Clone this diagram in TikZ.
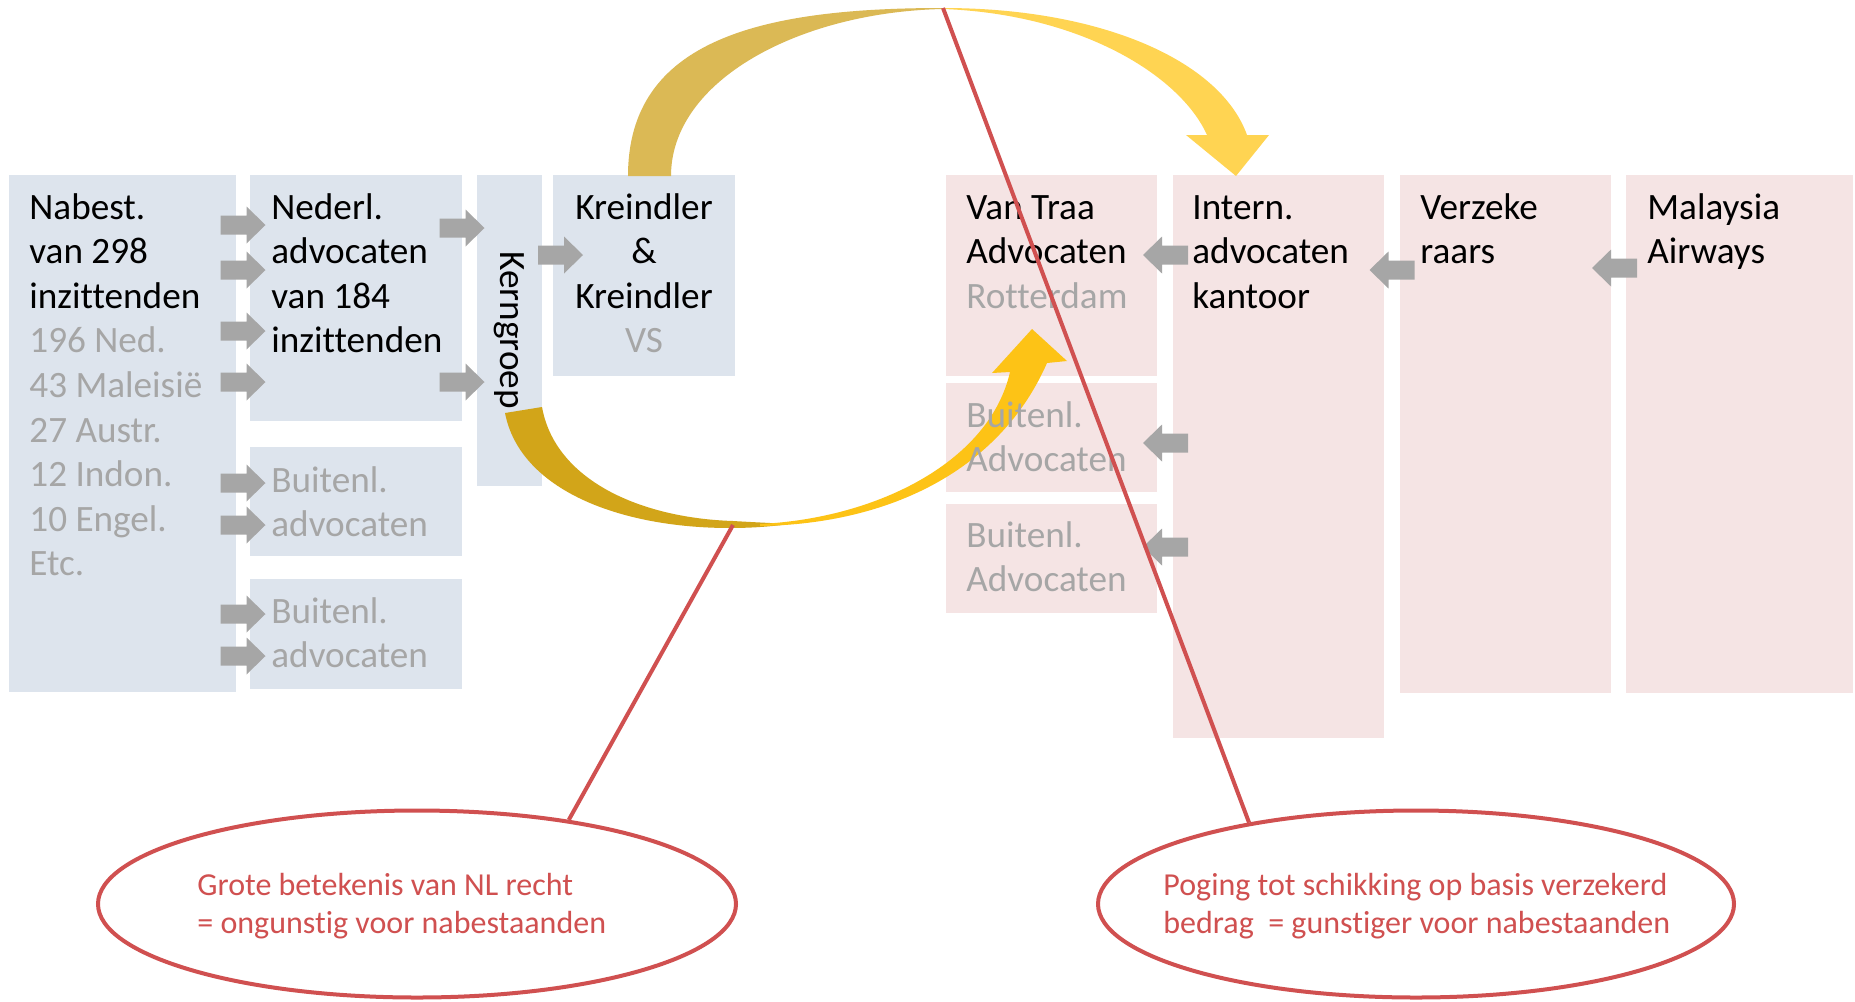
\documentclass[tikz,border=0pt]{standalone}
\usepackage{fontspec}
\setmainfont{Carlito}[Ligatures=NoCommon]
\usetikzlibrary{shapes.geometric}
\definecolor{bluebg}{HTML}{DDE4ED}
\definecolor{pinkbg}{HTML}{F5E4E4}
\definecolor{agray}{HTML}{A6A6A6}
\definecolor{tgray}{HTML}{A6A6A6}
\definecolor{redl}{HTML}{D05050}
\definecolor{goldA}{HTML}{DBB955}
\definecolor{goldB}{HTML}{FFD452}
\definecolor{goldC}{HTML}{D2A519}
\definecolor{goldD}{HTML}{FDC316}
\newcommand\boxtxt[1]{\parbox[t]{120pt}{\raggedright #1}}
\newcommand\ctrtxt[1]{\parbox[t]{91pt}{\centering #1}}
\newcommand\elltxt[1]{\parbox[t]{300pt}{\raggedright #1}}
\tikzset{
  bluebox/.style={fill=bluebg, draw=none, anchor=north west, inner sep=0, outer sep=0},
  pinkbox/.style={fill=pinkbg, draw=none, anchor=north west, inner sep=0, outer sep=0},
  lbl/.style={anchor=base west, inner sep=0, font=\fontsize{18.6}{22.3}\selectfont},
  clbl/.style={anchor=base, inner sep=0, font=\fontsize{18.6}{22.3}\selectfont},
  elbl/.style={anchor=base west, inner sep=0, text=redl, font=\fontsize{16}{19}\selectfont},
  bubble/.style={ellipse, draw=redl, line width=2pt, inner sep=0},
  redline/.style={draw=redl, line width=2pt},
  rarrow/.pic={\fill[agray] (-22.5,-9.5) -- (3.5,-9.5) -- (3.5,-18.5) -- (22.5,0) -- (3.5,18.5) -- (3.5,9.5) -- (-22.5,9.5) -- cycle;},
  larrow/.pic={\fill[agray] (22.5,-9.5) -- (-3.5,-9.5) -- (-3.5,-18.5) -- (-22.5,0) -- (-3.5,18.5) -- (-3.5,9.5) -- (22.5,9.5) -- cycle;}
}
\begin{document}
\begin{tikzpicture}[x=0.5pt,y=-0.5pt]
\useasboundingbox[fill=white] (0,0) rectangle (1855,1001);
% blue boxes
\node[bluebox, minimum width=113.5pt, minimum height=258.5pt] (A) at (9,175) {};
\node[bluebox, minimum width=106pt, minimum height=123pt] (B) at (250,175) {};
\node[bluebox, minimum width=106pt, minimum height=54.5pt] (C) at (250,447) {};
\node[bluebox, minimum width=106pt, minimum height=55pt] (D) at (250,579) {};
\node[bluebox, minimum width=32.5pt, minimum height=155.5pt] (K) at (477,175) {};
\node[bluebox, minimum width=91pt, minimum height=100.5pt] (KR) at (553,175) {};
% pink boxes
\node[pinkbox, minimum width=105.5pt, minimum height=100.5pt] (VT) at (946,175) {};
\node[pinkbox, minimum width=105.5pt, minimum height=54.5pt] (PB1) at (946,383) {};
\node[pinkbox, minimum width=105.5pt, minimum height=54.5pt] (PB2) at (946,504) {};
\node[pinkbox, minimum width=105.5pt, minimum height=281.5pt] (IN) at (1173,175) {};
\node[pinkbox, minimum width=105.5pt, minimum height=259pt] (VZ) at (1400,175) {};
\node[pinkbox, minimum width=113.5pt, minimum height=259pt] (MY) at (1626,175) {};
% gray block arrows
\foreach \yy in {225,270,331,382,483,525,614,656} \pic at (243,\yy) {rarrow};
\pic at (462,228) {rarrow};
\pic at (462,382) {rarrow};
\pic at (560.5,255) {rarrow};
\pic at (1165.5,255) {larrow};
\pic at (1165.5,443) {larrow};
\pic at (1165.5,547) {larrow};
\pic at (1392,270) {larrow};
\pic at (1614.5,268) {larrow};
% yellow curved arrows
\coordinate (apex) at (943,8);
\coordinate (low) at (733,525);
\fill[goldA] (628,176) .. controls (628,40) and (760,8) .. (apex) -- (943,9) .. controls (800,12) and (671,80) .. (671,176) -- cycle;
\fill[goldB] (apex) .. controls (1100,8) and (1220,60) .. (1247,135) -- (1269,135) -- (1236,176) -- (1186,135) -- (1207,135) .. controls (1180,75) and (1080,14) .. (943,9) -- cycle;
\fill[goldC] (505,413) .. controls (520,490) and (620,528) .. (730,528) .. controls (755,528) and (775,526) .. (790,524) .. controls (770,523) and (750,522) .. (733,521) .. controls (640,518) and (555,480) .. (542,407) -- cycle;
\fill[goldD] (760,526) .. controls (890,524) and (1000,470) .. (1047,363) -- (1067,361) -- (1032,329) -- (992,373) -- (1010,372) .. controls (990,460) and (880,518) .. (760,524) -- cycle;
% texts
\node[lbl] (tA) at (29,219) {\boxtxt{Nabest.\\van 298\\inzittenden\\\color{tgray}196 Ned.\\43 Maleisië\\27 Austr.\\12 Indon.\\10 Engel.\\Etc.}};
\node[lbl] (tB) at (271,219) {\boxtxt{Nederl.\\advocaten\\van 184\\inzittenden}};
\node[lbl, text=tgray] (tC) at (271,492) {\boxtxt{Buitenl.\\advocaten}};
\node[lbl, text=tgray] (tD) at (271,623) {\boxtxt{Buitenl.\\advocaten}};
\node[inner sep=0, rotate=-90, font=\fontsize{18.6}{22.3}\selectfont] (tK) at (509.5,330) {Kerngroep};
\node[clbl] (tKR) at (644,219) {\ctrtxt{Kreindler\\\&\\Kreindler\\\color{tgray}VS}};
\node[lbl] (tVT) at (966,219) {\boxtxt{Van Traa\\Advocaten\\\color{tgray}Rotterdam}};
\node[lbl, text=tgray] (tPB1) at (966,427) {\boxtxt{Buitenl.\\Advocaten}};
\node[lbl, text=tgray] (tPB2) at (966,547) {\boxtxt{Buitenl.\\Advocaten}};
\node[lbl] (tIN) at (1192,219) {\boxtxt{Intern.\\advocaten\\kantoor}};
\node[lbl] (tVZ) at (1420,219) {\boxtxt{Verzeke\\raars}};
\node[lbl] (tMY) at (1647,219) {\boxtxt{Malaysia\\Airways}};
% ellipses
\node[bubble, minimum width=319pt, minimum height=93.5pt] (E1) at (417,904) {};
\node[bubble, minimum width=318pt, minimum height=93.5pt] (E2) at (1416,904) {};
\node[elbl] (tE1) at (197,895) {\elltxt{Grote betekenis van NL recht\\= ongunstig voor nabestaanden}};
\node[elbl] (tE2) at (1163,895) {\elltxt{Poging tot schikking op basis verzekerd\\bedrag\ \ = gunstiger voor nabestaanden}};
% red lines
\draw[redline] (apex) -- (E2.154);
\draw[redline] (low) -- (E1.29);
\end{tikzpicture}
\end{document}
